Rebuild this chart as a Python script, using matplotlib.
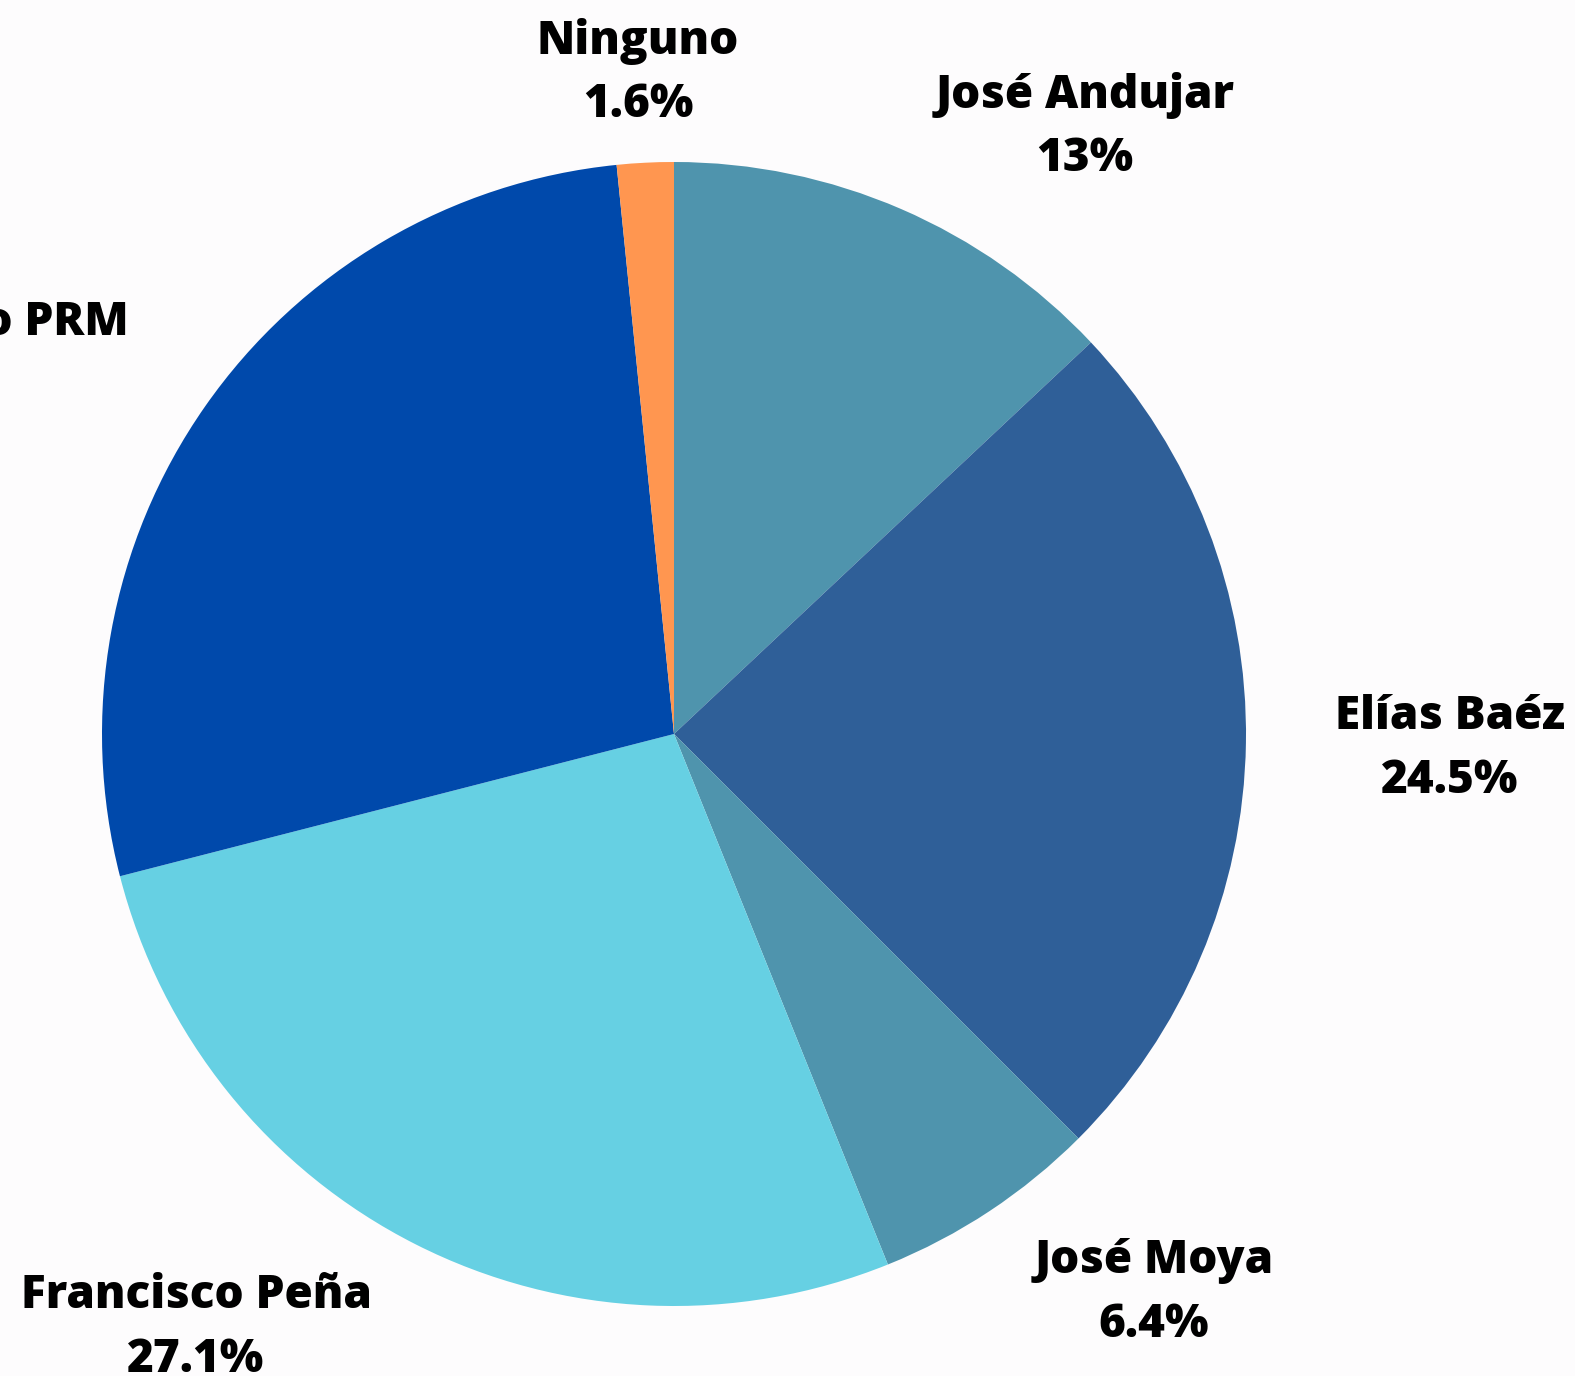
import matplotlib
matplotlib.use('Agg')
import matplotlib.pyplot as plt

# data
names = ['José Andujar', 'Elías Baéz', 'José Moya', 'Francisco Peña',
         'Candidato del Partido PRM', 'Ninguno']
shares = [13.0, 24.5, 6.4, 27.1, 27.4, 1.6]
pct_labels = ['13%', '24.5%', '6.4%', '27.1%', '27.4%', '1.6%']

colors = ['#4f94ad', '#2f5f98', '#4f94ad', '#66d0e3', '#0049ab', '#ff9650']
# label centres in figure pixels (x, y from top)
label_px = [(1085, 127), (1450, 749), (1154, 1293), (196, 1328),
            (-185, 355), (638, 73)]

W, H = 1575, 1376
fig = plt.figure(figsize=(W / 100, H / 100), dpi=100)
fig.patch.set_facecolor('#fdfcfd')

cx, cy, r = 674, 734, 572
ax = fig.add_axes([(cx - r) / W, (H - cy - r) / H, 2 * r / W, 2 * r / H])
ax.pie(shares, colors=colors, startangle=90, counterclock=False,
       radius=1, wedgeprops=dict(linewidth=0))
ax.set_xlim(-1, 1)
ax.set_ylim(-1, 1)
ax.set_aspect('equal')
ax.axis('off')

for name, pct, (px, py) in zip(names, pct_labels, label_px):
    fig.text(px / W, 1 - py / H, name + '\n' + pct, ha='center', va='center',
             fontsize=33, fontweight='heavy', family=['Open Sans', 'DejaVu Sans'],
             linespacing=1.5, color='black')

fig.savefig('out.png', dpi=100, facecolor=fig.get_facecolor())
